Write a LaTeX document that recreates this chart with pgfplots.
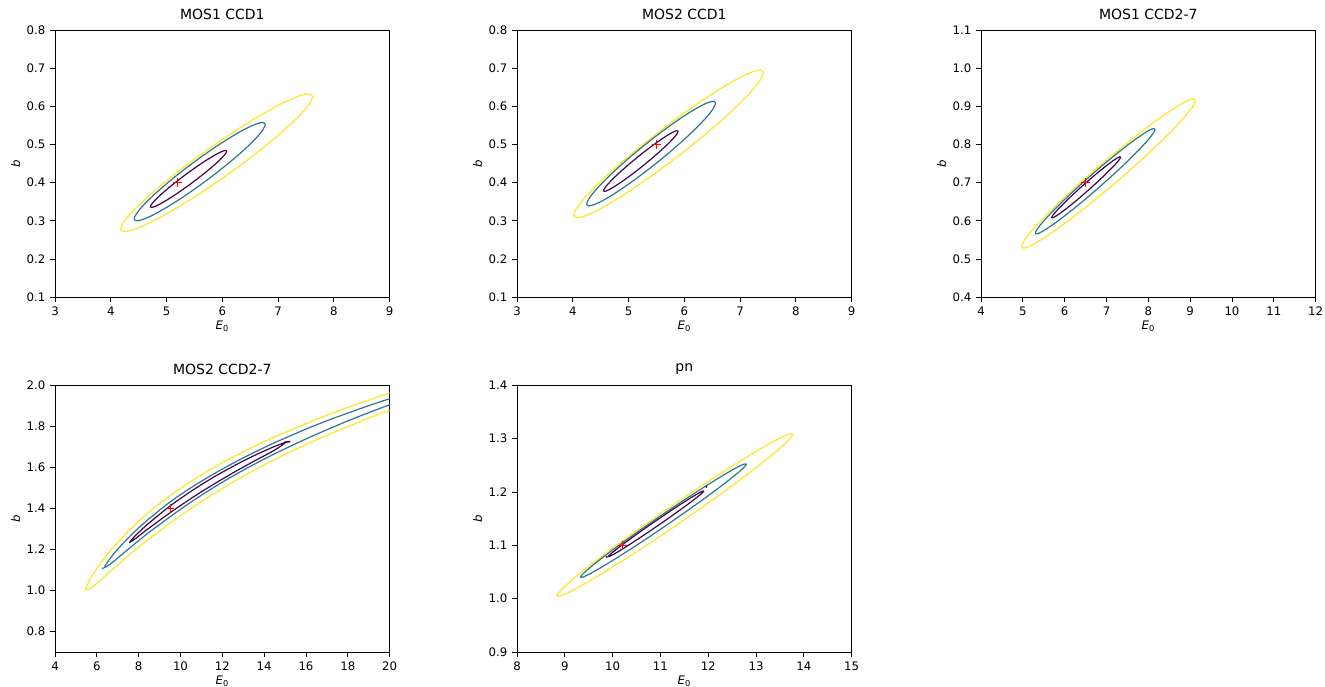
\documentclass[border=0pt]{standalone}
\usepackage{pgfplots}
\pgfplotsset{compat=1.18}
\usepackage{fontspec}
\setmainfont{DejaVu Sans}
\definecolor{vpur}{HTML}{440154}
\definecolor{vteal}{HTML}{2A788E}
\definecolor{vyel}{HTML}{FDE725}
\pgfplotsset{
  panel/.style={
    width=251pt, height=200pt, scale only axis, anchor=south west,
    axis line style={black, line width=0.6pt},
    tick align=outside, tick pos=left,
    major tick length=3.7pt,
    every tick/.style={black, line width=0.6pt},
    font=\fontsize{8.8}{10.5}\selectfont,
    tick label style={font=\fontsize{8.8}{10.5}\selectfont},
    /pgf/number format/assume math mode=true,
    title style={font=\fontsize{10.5}{12}\selectfont, yshift=-1.5pt},
    xlabel={\textit{E}\textsubscript{0}},
    ylabel={\textit{b}},
    xlabel style={yshift=3pt},
    ylabel style={yshift=-2pt},
    clip=true,
  },
  yone/.style={yticklabel style={/pgf/number format/.cd, fixed, fixed zerofill, precision=1}},
  c1/.style={vpur, line width=0.9pt, smooth, tension=0.55},
  c2/.style={vteal, line width=0.9pt, smooth, tension=0.55},
  c3/.style={vyel, line width=0.9pt, smooth, tension=0.55},
  bf/.style={only marks, mark=+, red, mark size=3.3pt, mark options={line width=0.8pt}},
}
\begin{document}
\begin{tikzpicture}
\useasboundingbox (0,0) rectangle (993.75pt,514.5pt);
% ---------------- MOS1 CCD1
\begin{axis}[panel, yone, at={(41.25pt,291.75pt)}, title={MOS1 CCD1},
  xmin=3, xmax=9, ymin=0.1, ymax=0.8, xtick={3,4,5,6,7,8,9}, ytick={0.1,0.2,0.3,0.4,0.5,0.6,0.7,0.8}]
\addplot[c3] coordinates {(7.620,0.626) (7.562,0.6333) (7.390,0.6283) (7.116,0.6113) (6.760,0.5835) (6.345,0.5467) (5.900,0.5035) (5.455,0.4569) (5.040,0.4099) (4.684,0.3659) (4.410,0.3277) (4.238,0.2981) (4.180,0.279) (4.238,0.2717) (4.410,0.2767) (4.684,0.2937) (5.040,0.3215) (5.455,0.3583) (5.900,0.4015) (6.345,0.4481) (6.760,0.4951) (7.116,0.5391) (7.390,0.5773) (7.562,0.6069) (7.620,0.626)};
\addplot[c2] coordinates {(6.770,0.553) (6.730,0.5581) (6.613,0.5544) (6.426,0.5422) (6.1825,0.5222) (5.899,0.4959) (5.595,0.465) (5.291,0.4317) (5.0075,0.3982) (4.764,0.3668) (4.577,0.3396) (4.460,0.3185) (4.420,0.305) (4.460,0.2999) (4.577,0.3036) (4.764,0.3158) (5.0075,0.3358) (5.291,0.3621) (5.595,0.393) (5.899,0.4263) (6.1825,0.4598) (6.426,0.4912) (6.613,0.5184) (6.730,0.5395) (6.770,0.553)};
\addplot[c1] coordinates {(6.080,0.483) (6.057,0.4849) (5.988,0.4817) (5.879,0.4736) (5.7375,0.4612) (5.572,0.4453) (5.395,0.427) (5.218,0.4075) (5.0525,0.3882) (4.911,0.3704) (4.802,0.3553) (4.733,0.3439) (4.710,0.337) (4.733,0.3351) (4.802,0.3383) (4.911,0.3464) (5.0525,0.3588) (5.218,0.3747) (5.395,0.393) (5.572,0.4125) (5.7375,0.4318) (5.879,0.4496) (5.988,0.4647) (6.057,0.4761) (6.080,0.483)};
\addplot[bf] coordinates {(5.2,0.4)};
\end{axis}
% ---------------- MOS2 CCD1
\begin{axis}[panel, yone, at={(387.75pt,291.75pt)}, title={MOS2 CCD1},
  xmin=3, xmax=9, ymin=0.1, ymax=0.8, xtick={3,4,5,6,7,8,9}, ytick={0.1,0.2,0.3,0.4,0.5,0.6,0.7,0.8}]
\addplot[c3] coordinates {(7.420,0.689) (7.362,0.6958) (7.192,0.6894) (6.922,0.6703) (6.570,0.6397) (6.160,0.5997) (5.720,0.553) (5.280,0.5029) (4.870,0.4527) (4.518,0.4059) (4.248,0.3656) (4.078,0.3346) (4.020,0.315) (4.078,0.3082) (4.248,0.3146) (4.518,0.3337) (4.870,0.3643) (5.280,0.4043) (5.720,0.451) (6.160,0.5011) (6.570,0.5513) (6.922,0.5981) (7.192,0.6384) (7.362,0.6694) (7.420,0.689)};
\addplot[c2] coordinates {(6.560,0.609) (6.521,0.6138) (6.405,0.6092) (6.222,0.5957) (5.9825,0.574) (5.704,0.5456) (5.405,0.5125) (5.106,0.477) (4.8275,0.4414) (4.588,0.4083) (4.405,0.3798) (4.289,0.3578) (4.250,0.344) (4.289,0.3392) (4.405,0.3438) (4.588,0.3573) (4.8275,0.379) (5.106,0.4074) (5.405,0.4405) (5.704,0.476) (5.9825,0.5116) (6.222,0.5447) (6.405,0.5732) (6.521,0.5952) (6.560,0.609)};
\addplot[c1] coordinates {(5.890,0.535) (5.867,0.5367) (5.800,0.533) (5.694,0.5241) (5.555,0.5107) (5.3935,0.4936) (5.220,0.474) (5.0465,0.4532) (4.885,0.4327) (4.746,0.4139) (4.640,0.398) (4.573,0.3861) (4.550,0.379) (4.573,0.3773) (4.640,0.381) (4.746,0.3899) (4.885,0.4033) (5.0465,0.4204) (5.220,0.440) (5.3935,0.4608) (5.555,0.4813) (5.694,0.5001) (5.800,0.516) (5.867,0.5279) (5.890,0.535)};
\addplot[bf] coordinates {(5.5,0.5)};
\end{axis}
% ---------------- MOS1 CCD2-7
\begin{axis}[panel, yone, at={(735.75pt,291.75pt)}, title={MOS1 CCD2-7},
  xmin=4, xmax=12, ymin=0.4, ymax=1.1, xtick={4,5,6,7,8,9,10,11,12}, ytick={0.4,0.5,0.6,0.7,0.8,0.9,1.0,1.1}]
\addplot[c3] coordinates {(9.130,0.9165) (9.059,0.9204) (8.851,0.9108) (8.521,0.8885) (8.090,0.8551) (7.589,0.8128) (7.050,0.7645) (6.511,0.7134) (6.010,0.6631) (5.579,0.6171) (5.249,0.5782) (5.041,0.5494) (4.970,0.5325) (5.041,0.5286) (5.249,0.5382) (5.579,0.5605) (6.010,0.5939) (6.511,0.6362) (7.050,0.6845) (7.589,0.7356) (8.090,0.7859) (8.521,0.8319) (8.851,0.8708) (9.059,0.8996) (9.130,0.9165)};
\addplot[c2] coordinates {(8.160,0.840) (8.111,0.8419) (7.968,0.8343) (7.741,0.8179) (7.445,0.7937) (7.100,0.7634) (6.730,0.729) (6.360,0.693) (6.015,0.6577) (5.719,0.6255) (5.492,0.5987) (5.349,0.5791) (5.300,0.568) (5.349,0.5661) (5.492,0.5737) (5.719,0.5901) (6.015,0.6143) (6.360,0.6446) (6.730,0.679) (7.100,0.715) (7.445,0.7503) (7.741,0.7825) (7.968,0.8093) (8.111,0.8289) (8.160,0.840)};
\addplot[c1] coordinates {(7.340,0.7675) (7.312,0.768) (7.2295,0.7631) (7.098,0.753) (6.9275,0.7386) (6.729,0.7207) (6.515,0.7005) (6.301,0.6795) (6.1025,0.659) (5.932,0.6406) (5.8005,0.6255) (5.718,0.6144) (5.690,0.6085) (5.718,0.608) (5.8005,0.6129) (5.932,0.623) (6.1025,0.6374) (6.301,0.6553) (6.515,0.6755) (6.729,0.6965) (6.9275,0.717) (7.098,0.7354) (7.2295,0.7505) (7.312,0.7616) (7.340,0.7675)};
\addplot[bf] coordinates {(6.5,0.7)};
\end{axis}
% ---------------- MOS2 CCD2-7
\begin{axis}[panel, yone, at={(41.25pt,25.5pt)}, title={MOS2 CCD2-7},
  xmin=4, xmax=20, ymin=0.7, ymax=2.0, xtick={4,6,8,10,12,14,16,18,20}, ytick={0.8,1.0,1.2,1.4,1.6,1.8,2.0}]
\addplot[c3, tension=0.5] coordinates {(21,1.9954) (20,1.9625) (19,1.9278) (18,1.8927) (17,1.8544) (16,1.8137) (14.5,1.7482) (13.5,1.7009) (12.5,1.6496) (11.5,1.5938) (10.5,1.5317) (9.5,1.4622) (8.5,1.3818) (8.0,1.3370) (7.55,1.2932) (7.2,1.2567) (6.7,1.2000) (6.36,1.1573) (6.0,1.1072) (5.7,1.0601) (5.47,1.006) (5.7,1.0101) (6.0,1.0352) (6.36,1.0673) (6.7,1.0980) (7.2,1.1427) (7.55,1.1732) (8.0,1.2110) (8.5,1.2518) (9.5,1.3282) (10.5,1.3997) (11.5,1.4658) (12.5,1.5276) (13.5,1.5849) (14.5,1.6382) (16,1.7117) (17,1.7564) (18,1.7987) (19,1.8398) (20,1.8775) (21,1.9134)};
\addplot[c2, tension=0.5] coordinates {(21,1.9684) (20,1.9350) (19,1.9008) (18,1.8647) (17,1.8274) (16,1.7867) (14.5,1.7202) (13.5,1.6719) (12.5,1.6196) (11.5,1.5628) (10.5,1.5007) (9.5,1.4312) (8.5,1.3498) (8.0,1.3050) (7.55,1.2612) (7.2,1.2237) (6.7,1.1650) (6.36,1.1123) (6.7,1.1330) (7.2,1.1757) (7.55,1.2052) (8.0,1.2430) (8.5,1.2838) (9.5,1.3592) (10.5,1.4307) (11.5,1.4968) (12.5,1.5576) (13.5,1.6139) (14.5,1.6662) (16,1.7387) (17,1.7834) (18,1.8267) (19,1.8668) (20,1.9050) (21,1.9404)};
\addplot[c1, tension=0.5] coordinates {(7.55,1.2332) (7.8,1.2631) (8.0,1.2830) (8.5,1.3293) (9.5,1.4117) (10.5,1.4832) (11.5,1.5473) (12.5,1.6046) (13.5,1.6564) (14.5,1.7022) (15.0,1.7200) (14.5,1.6842) (13.5,1.6294) (12.5,1.5726) (11.5,1.5123) (10.5,1.4482) (9.5,1.3787) (8.5,1.3043) (8.0,1.2650) (7.8,1.2491) (7.55,1.2332)};
\addplot[only marks, mark=*, vteal, mark size=0.5pt] coordinates {(6.28,1.108)};
\addplot[vpur, line width=1.2pt] coordinates {(14.95,1.722) (15.25,1.726)};
\addplot[bf] coordinates {(9.5,1.4)};
\end{axis}
% ---------------- pn
\begin{axis}[panel, yone, at={(387.75pt,25.5pt)}, title={pn},
  xmin=8, xmax=15, ymin=0.9, ymax=1.4, xtick={8,9,10,11,12,13,14,15}, ytick={0.9,1.0,1.1,1.2,1.3,1.4}]
\addplot[c3] coordinates {(13.770,1.308) (13.686,1.3083) (13.440,1.2983) (13.048,1.2786) (12.5375,1.2507) (11.943,1.2164) (11.305,1.178) (10.667,1.1382) (10.0725,1.0997) (9.562,1.065) (9.170,1.0367) (8.924,1.0165) (8.840,1.006) (8.924,1.0057) (9.170,1.0157) (9.562,1.0354) (10.0725,1.0633) (10.667,1.0976) (11.305,1.136) (11.943,1.1758) (12.5375,1.2143) (13.048,1.249) (13.440,1.2773) (13.686,1.2975) (13.770,1.308)};
\addplot[c2] coordinates {(12.800,1.2525) (12.741,1.2521) (12.5675,1.2446) (12.292,1.2302) (11.9325,1.2103) (11.514,1.1861) (11.065,1.159) (10.616,1.1311) (10.1975,1.1043) (9.838,1.0804) (9.5625,1.061) (9.389,1.0473) (9.330,1.0405) (9.389,1.0409) (9.5625,1.0484) (9.838,1.0628) (10.1975,1.0827) (10.616,1.1069) (11.065,1.134) (11.514,1.1619) (11.9325,1.1887) (12.292,1.2126) (12.5675,1.232) (12.741,1.2457) (12.800,1.2525)};
\addplot[c1] coordinates {(11.910,1.202) (11.876,1.2014) (11.776,1.1967) (11.617,1.1881) (11.410,1.1763) (11.169,1.162) (10.910,1.1463) (10.651,1.1302) (10.410,1.1147) (10.203,1.1011) (10.044,1.0901) (9.944,1.0826) (9.910,1.079) (9.944,1.0796) (10.044,1.0843) (10.203,1.0929) (10.410,1.1047) (10.651,1.119) (10.910,1.1347) (11.169,1.1508) (11.410,1.1663) (11.617,1.1799) (11.776,1.1909) (11.876,1.1984) (11.910,1.202)};
\addplot[only marks, mark=*, vpur, mark size=0.5pt] coordinates {(9.874,1.0785) (11.964,1.2096)};
\addplot[bf] coordinates {(10.2,1.1)};
\end{axis}
\end{tikzpicture}
\end{document}
